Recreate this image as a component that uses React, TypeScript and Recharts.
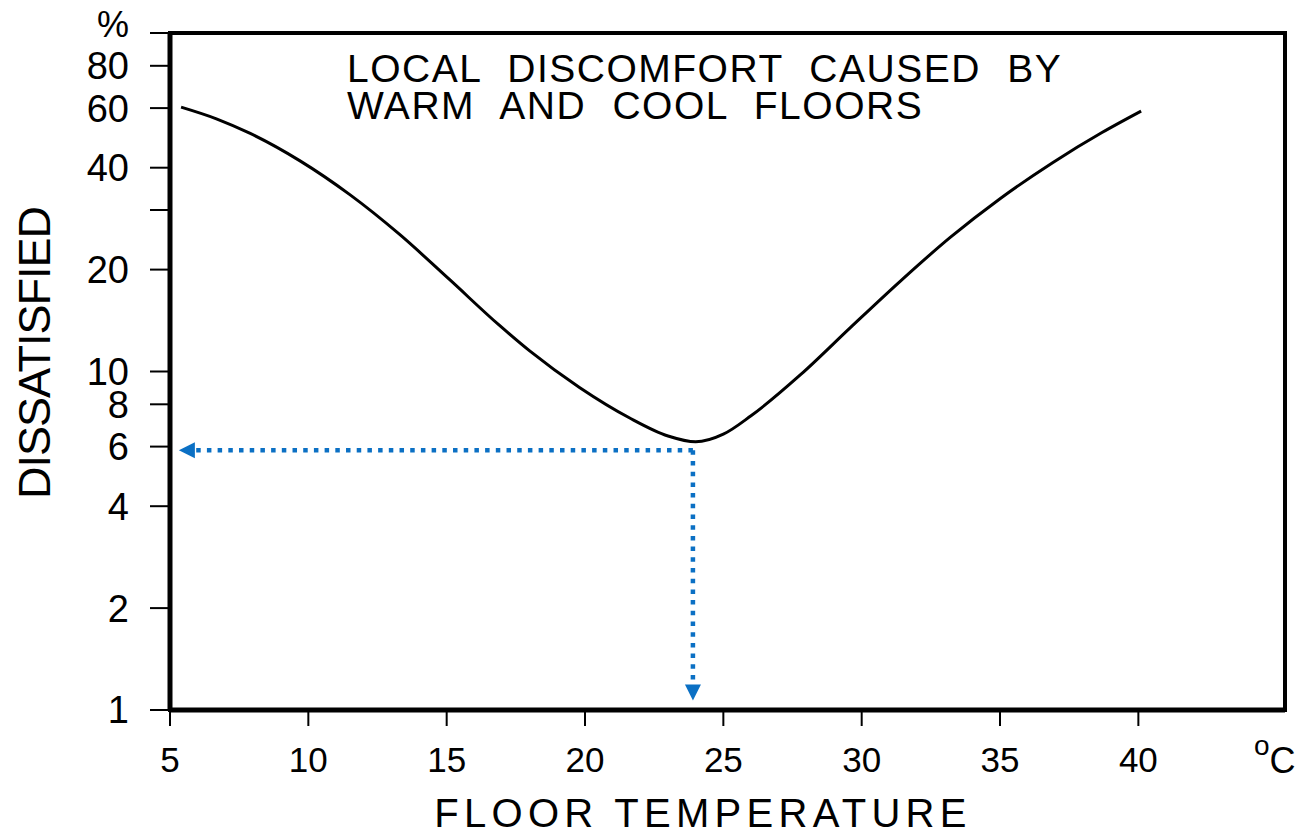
import React from "react";
import { LineChart, Line, XAxis, YAxis, ReferenceArea } from "recharts";

// floor temperature (°C) and % dissatisfied
const curveTemp = [5.4, 6.7, 7.9, 9.7, 11.5, 13.3, 15.1, 16.9, 18.0, 19.8, 21.6, 23.0, 24.0, 25.0, 26.0, 27.8, 29.6, 31.4, 33.2, 35.0, 36.9, 38.7, 40.1];
const curveDissatisfied = [60.4, 55.7, 50.5, 41.9, 33.3, 25.4, 18.7, 13.7, 11.5, 8.97, 7.3, 6.45, 6.2, 6.53, 7.4, 9.8, 13.5, 18.5, 24.9, 32.4, 41.4, 50.9, 58.8];

// blue guide arrows (optimum point)
const guideTemp = [23.9, 5.9];
const guideLevel = [5.85, 5.85];
const dropTemp = [23.9, 23.9];
const dropLevel = [5.85, 1.19];

const xTicks = [5, 10, 15, 20, 25, 30, 35, 40];
const yTicks = [1, 2, 4, 6, 8, 10, 20, 30, 40, 60, 80, 100];
const yTickLabels = ["1", "2", "4", "6", "8", "10", "20", "", "40", "60", "80", "%"];

const FONT = "'Liberation Sans', Arial, Helvetica, sans-serif";
const BLUE = "#0B70C4";

const curveData = curveTemp.map((x, i) => ({ x, y: curveDissatisfied[i] }));
const guideData = guideTemp.map((x, i) => ({ x, y: guideLevel[i] }));
const dropData = dropTemp.map((x, i) => ({ x, y: dropLevel[i] }));

const arrowDot = (dir: "left" | "down", last: number) => (props: any) => {
  const { cx, cy, index } = props;
  if (index !== last || cx == null) return <g key={`a-${dir}-${index}`} />;
  const pts =
    dir === "left"
      ? `${cx},${cy - 8} ${cx},${cy + 8} ${cx - 16},${cy}`
      : `${cx - 8},${cy} ${cx + 8},${cy} ${cx},${cy + 16}`;
  return <polygon key={`a-${dir}-${index}`} points={pts} fill={BLUE} />;
};

// y tick: the "%" unit sits a little above the top tick
const YTick = (props: any) => {
  const { x, y, payload } = props;
  const label = yTickLabels[yTicks.indexOf(payload.value)] ?? "";
  if (!label) return <g />;
  return (
    <text
      x={x}
      y={label === "%" ? y - 9 : y}
      dy="0.355em"
      textAnchor="end"
      fontFamily={FONT}
      fontSize={label === "%" ? 36 : 38}
      fill="#000"
    >
      {label}
    </text>
  );
};

export default function App() {
  return (
    <div style={{ position: "absolute", left: 0, top: 0, background: "#fff" }}>
      <LineChart
        width={1309}
        height={836}
        margin={{ top: 33, right: 24, bottom: 66, left: 0 }}
        style={{ fontFamily: FONT }}
      >
        <XAxis
          dataKey="x"
          type="number"
          domain={[5, 45.3]}
          ticks={xTicks}
          interval={0}
          allowDataOverflow
          height={60}
          axisLine={{ stroke: "#000", strokeWidth: 5 }}
          tickLine={{ stroke: "#000", strokeWidth: 2 }}
          tickSize={16}
          tickMargin={21}
          tick={{ fill: "#000", fontSize: 35, fontFamily: FONT }}
        />
        <YAxis
          dataKey="y"
          type="number"
          scale="log"
          domain={[1, 100]}
          ticks={yTicks}
          interval={0}
          allowDataOverflow
          width={170}
          axisLine={{ stroke: "#000", strokeWidth: 5 }}
          tickLine={{ stroke: "#000", strokeWidth: 2 }}
          tickSize={20}
          tickMargin={21}
          tick={<YTick />}
        />
        <ReferenceArea x1={5} x2={45.3} y1={1} y2={100} fill="none" stroke="#000" strokeWidth={4} ifOverflow="visible" />

        <Line
          data={curveData}
          dataKey="y"
          type="monotone"
          stroke="#000"
          strokeWidth={3}
          dot={false}
          isAnimationActive={false}
        />
        <Line
          data={guideData}
          dataKey="y"
          type="linear"
          stroke={BLUE}
          strokeWidth={4.5}
          strokeDasharray="4.5 6.2"
          dot={arrowDot("left", guideData.length - 1)}
          isAnimationActive={false}
        />
        <Line
          data={dropData}
          dataKey="y"
          type="linear"
          stroke={BLUE}
          strokeWidth={4.5}
          strokeDasharray="4.5 6.2"
          dot={arrowDot("down", dropData.length - 1)}
          isAnimationActive={false}
        />

        <text x={347} y={82} fontFamily={FONT} fontSize={39} letterSpacing={1.5} wordSpacing={14} fill="#000">
          LOCAL DISCOMFORT CAUSED BY
        </text>
        <text x={347} y={119} fontFamily={FONT} fontSize={39} letterSpacing={1.5} wordSpacing={14} fill="#000">
          WARM AND COOL FLOORS
        </text>
        <text x={703} y={827} textAnchor="middle" fontFamily={FONT} fontSize={40} letterSpacing={5.3} fill="#000">
          FLOOR TEMPERATURE
        </text>
        <text
          x={50}
          y={353}
          textAnchor="middle"
          transform="rotate(-90, 50, 353)"
          fontFamily={FONT}
          fontSize={45}
          letterSpacing={-1}
          fill="#000"
        >
          DISSATISFIED
        </text>
        <text x={1254} y={773} fontFamily={FONT} fontSize={36} fill="#000">
          <tspan fontSize={28} dy={-18}>o</tspan>
          <tspan dy={18}>C</tspan>
        </text>
      </LineChart>
    </div>
  );
}
